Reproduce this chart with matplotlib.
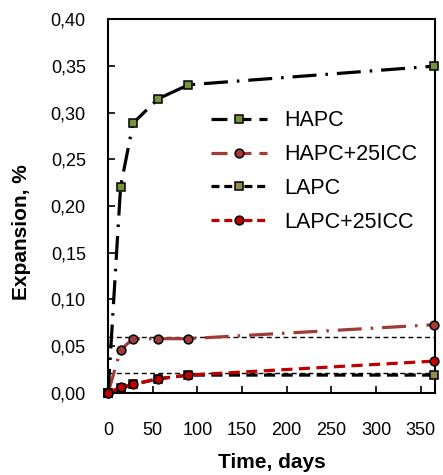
import matplotlib
matplotlib.use('Agg')
import matplotlib.pyplot as plt
from matplotlib.lines import Line2D
from matplotlib.ticker import FuncFormatter
import numpy as np

plt.rcParams['font.family'] = ['Liberation Sans', 'DejaVu Sans']

# data (days, expansion %)
days = [0, 14, 28, 56, 90, 365]
hapc = [0.0, 0.221, 0.289, 0.315, 0.330, 0.350]
hapc_icc = [0.0, 0.046, 0.058, 0.058, 0.058, 0.073]
lapc = [0.0, 0.005, 0.009, 0.015, 0.019, 0.019]
lapc_icc = [0.0, 0.006, 0.009, 0.015, 0.019, 0.034]
ref_levels = [0.06, 0.021]

labels = ['HAPC', 'HAPC+25ICC', 'LAPC', 'LAPC+25ICC']

green = '#77933C'
brown = '#A23B38'
tan = '#948A54'
red = '#C00000'

fig = plt.figure(figsize=(4.43, 4.75), dpi=100)
ax = fig.add_axes([0.244, 0.173, 0.738, 0.786])

for lev in ref_levels:
    ax.axhline(lev, color='black', lw=1.0, dashes=(3.5, 2.5), zorder=1)

lw = 2.3
sq = dict(marker='s', ms=5.6, mec='black', mew=1.1, clip_on=False)
ci = dict(marker='o', ms=6.3, mec='black', mew=1.1, clip_on=False)
dashdot = (7.5, 2.8, 0.8, 2.8)

ax.plot(days, lapc, color='black', lw=lw, dashes=(3.5, 2.0), mfc=tan, zorder=3, **sq)
ax.plot(days, lapc_icc, color=red, lw=lw, dashes=(3.5, 2.0), mfc=red, zorder=4, **ci)
ax.plot(days, hapc_icc, color=brown, lw=lw, dashes=dashdot, mfc=brown, zorder=3, **ci)
ax.plot(days, hapc, color='black', lw=lw, dashes=dashdot, mfc=green, zorder=3, **sq)

ax.set_xlim(0, 366)
ax.set_ylim(0, 0.40)
ax.set_xticks(np.arange(0, 351, 50))
ax.set_yticks(np.arange(0, 0.401, 0.05))
ax.yaxis.set_major_formatter(FuncFormatter(lambda v, p: ('%.2f' % v).replace('.', ',')))
ax.tick_params(direction='in', labelsize=13, length=5, width=1.2)
ax.tick_params(axis='x', pad=21)
ax.tick_params(axis='y', pad=16)
for s in ax.spines.values():
    s.set_linewidth(1.5)

ax.set_xlabel('Time, days', fontsize=15, fontweight='bold')
ax.set_ylabel('Expansion, %', fontsize=15, fontweight='bold')
ax.xaxis.set_label_coords(0.5, -0.16)
ax.yaxis.set_label_coords(-0.235, 0.43)

handles = [
    Line2D([], [], color='black', lw=lw, dashes=(5, 2.5), mfc=green, **sq),
    Line2D([], [], color=brown, lw=lw, dashes=(5, 2.5), mfc=brown, **ci),
    Line2D([], [], color='black', lw=lw, dashes=(2.5, 1.5, 2.5, 1.5, 0.8, 1.5), mfc=tan, **sq),
    Line2D([], [], color=red, lw=lw, dashes=(2.5, 1.5, 2.5, 1.5, 0.8, 1.5), mfc=red, **ci),
]
ax.legend(handles, labels, loc='upper left', bbox_to_anchor=(0.315, 0.757),
          frameon=False, fontsize=15.5, handlelength=2.6, handletextpad=0.8,
          labelspacing=0.6, borderpad=0, borderaxespad=0)

plt.savefig('out.png', dpi=100)
